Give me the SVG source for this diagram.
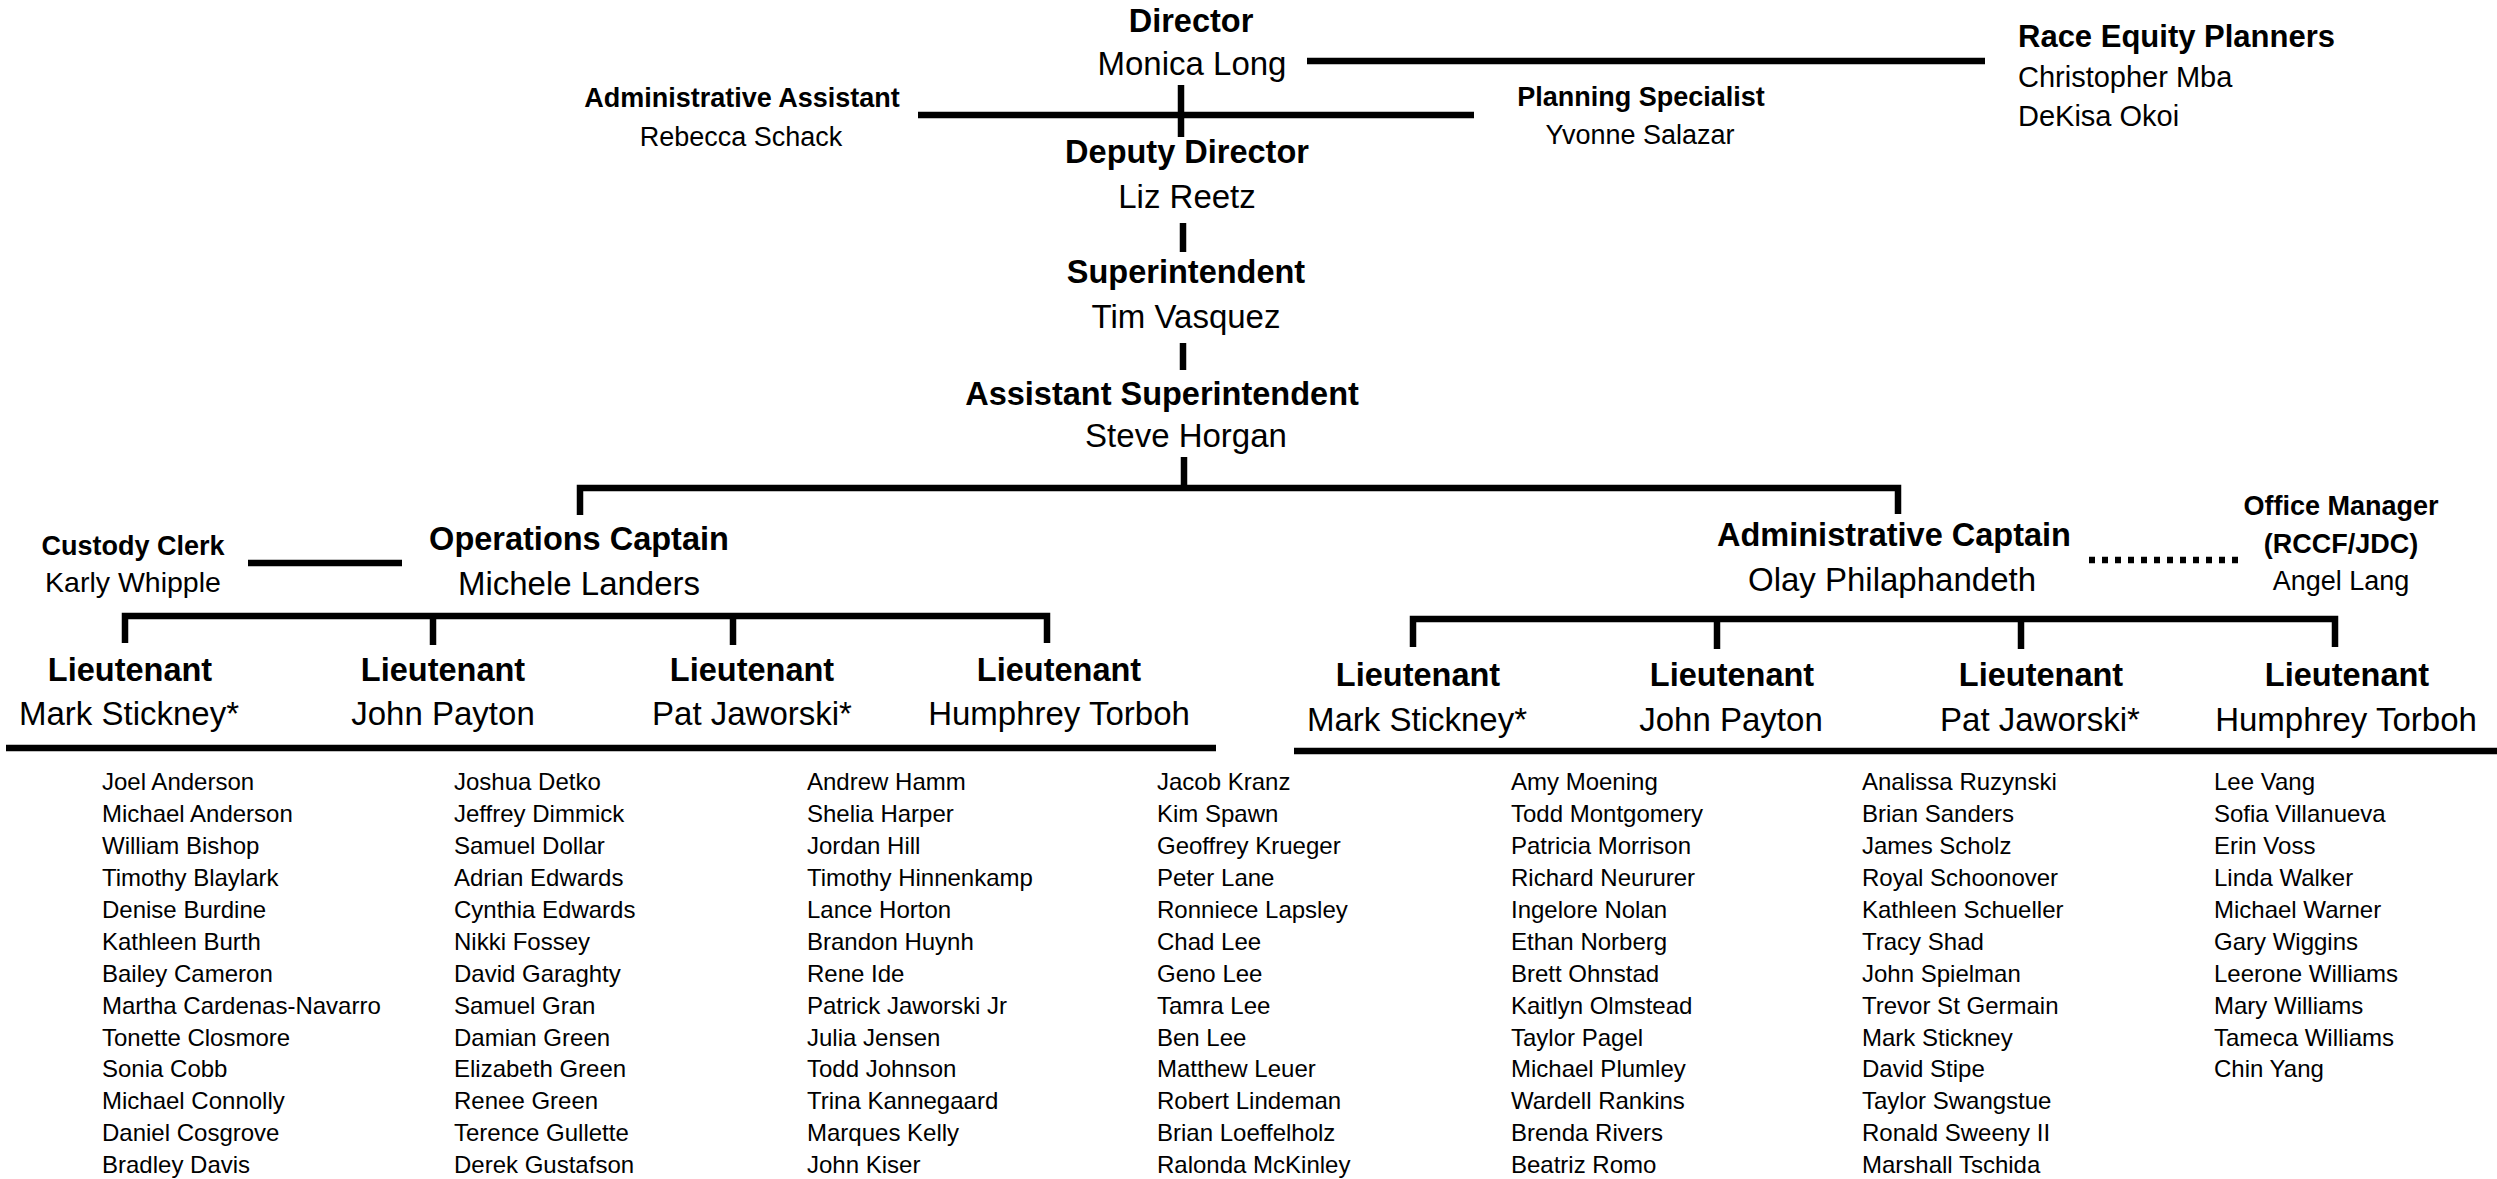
<svg xmlns="http://www.w3.org/2000/svg" width="2497" height="1179" viewBox="0 0 2497 1179">
<style>
text{font-family:"Liberation Sans",Arial,sans-serif;fill:#000}
.t{font-weight:bold;font-size:32.5px;text-anchor:middle}
.n{font-size:33px;text-anchor:middle}
.ts{font-weight:bold;font-size:27px;text-anchor:middle}
.ns{font-size:27px;text-anchor:middle}
.l{font-size:24px}
.c line,.c path{stroke:#000;stroke-width:6.5;fill:none}
</style>
<rect width="2497" height="1179" fill="#fff"/>
<g class="c" id="connectors">
<line x1="1307" y1="61" x2="1985" y2="61"/>
<line x1="918" y1="115" x2="1474" y2="115"/>
<line x1="1181" y1="85" x2="1181" y2="137"/>
<line x1="1183" y1="223" x2="1183" y2="252"/>
<line x1="1183" y1="343" x2="1183" y2="370"/>
<line x1="1184" y1="457" x2="1184" y2="488"/>
<path d="M580,515 V488 H1898 V514"/>
<line x1="248" y1="563" x2="402" y2="563"/>
<path d="M125,643 V616 H1047 V643"/>
<line x1="433" y1="616" x2="433" y2="645"/>
<line x1="733" y1="616" x2="733" y2="645"/>
<line x1="2089" y1="560" x2="2240" y2="560" stroke-dasharray="6 7"/>
<path d="M1413,647 V619 H2335 V647"/>
<line x1="1717" y1="619" x2="1717" y2="649"/>
<line x1="2021" y1="619" x2="2021" y2="649"/>
<line x1="6" y1="748" x2="1216" y2="748" stroke-width="7"/>
<line x1="1294" y1="751" x2="2497" y2="751" stroke-width="7"/>
</g>
<g id="director"><text class="t" x="1191" y="32">Director</text><text class="n" x="1192" y="75">Monica Long</text></g>
<g id="race-equity"><text x="2018" y="47" font-weight="bold" font-size="31px">Race Equity Planners</text><text x="2018" y="87" font-size="29px">Christopher Mba</text><text x="2018" y="126" font-size="29px">DeKisa Okoi</text></g>
<g id="admin-assistant"><text class="ts" x="742" y="107">Administrative Assistant</text><text class="ns" x="741" y="146">Rebecca Schack</text></g>
<g id="planning-specialist"><text class="ts" x="1641" y="106">Planning Specialist</text><text class="ns" x="1640" y="144">Yvonne Salazar</text></g>
<g id="deputy-director"><text class="t" x="1187" y="163">Deputy Director</text><text class="n" x="1187" y="208">Liz Reetz</text></g>
<g id="superintendent"><text class="t" x="1186" y="283">Superintendent</text><text class="n" x="1186" y="328">Tim Vasquez</text></g>
<g id="assistant-superintendent"><text class="t" x="1162" y="405">Assistant Superintendent</text><text class="n" x="1186" y="447">Steve Horgan</text></g>
<g id="custody-clerk"><text class="ts" x="133" y="555">Custody Clerk</text><text class="ns" x="133" y="592" style="font-size:28.5px">Karly Whipple</text></g>
<g id="operations-captain"><text class="t" x="579" y="550">Operations Captain</text><text class="n" x="579" y="595">Michele Landers</text></g>
<g id="administrative-captain"><text class="t" x="1894" y="546">Administrative Captain</text><text class="n" x="1892" y="591">Olay Philaphandeth</text></g>
<g id="office-manager"><text class="ts" x="2341" y="515">Office Manager</text><text class="ts" x="2341" y="553">(RCCF/JDC)</text><text class="ns" x="2341" y="590">Angel Lang</text></g>
<g id="ops-lt-1"><text class="t" x="130" y="681">Lieutenant</text><text class="n" x="129" y="725">Mark Stickney*</text></g>
<g id="ops-lt-2"><text class="t" x="443" y="681">Lieutenant</text><text class="n" x="443" y="725">John Payton</text></g>
<g id="ops-lt-3"><text class="t" x="752" y="681">Lieutenant</text><text class="n" x="752" y="725">Pat Jaworski*</text></g>
<g id="ops-lt-4"><text class="t" x="1059" y="681">Lieutenant</text><text class="n" x="1059" y="725">Humphrey Torboh</text></g>
<g id="adm-lt-1"><text class="t" x="1418" y="686">Lieutenant</text><text class="n" x="1417" y="731">Mark Stickney*</text></g>
<g id="adm-lt-2"><text class="t" x="1732" y="686">Lieutenant</text><text class="n" x="1731" y="731">John Payton</text></g>
<g id="adm-lt-3"><text class="t" x="2041" y="686">Lieutenant</text><text class="n" x="2040" y="731">Pat Jaworski*</text></g>
<g id="adm-lt-4"><text class="t" x="2347" y="686">Lieutenant</text><text class="n" x="2346" y="731">Humphrey Torboh</text></g>
<g id="staff-list">
<text class="l" y="790"><tspan x="102">Joel Anderson</tspan><tspan x="102" dy="31.94">Michael Anderson</tspan><tspan x="102" dy="31.94">William Bishop</tspan><tspan x="102" dy="31.94">Timothy Blaylark</tspan><tspan x="102" dy="31.94">Denise Burdine</tspan><tspan x="102" dy="31.94">Kathleen Burth</tspan><tspan x="102" dy="31.94">Bailey Cameron</tspan><tspan x="102" dy="31.94">Martha Cardenas-Navarro</tspan><tspan x="102" dy="31.94">Tonette Closmore</tspan><tspan x="102" dy="31.94">Sonia Cobb</tspan><tspan x="102" dy="31.94">Michael Connolly</tspan><tspan x="102" dy="31.94">Daniel Cosgrove</tspan><tspan x="102" dy="31.94">Bradley Davis</tspan></text>
<text class="l" y="790"><tspan x="454">Joshua Detko</tspan><tspan x="454" dy="31.94">Jeffrey Dimmick</tspan><tspan x="454" dy="31.94">Samuel Dollar</tspan><tspan x="454" dy="31.94">Adrian Edwards</tspan><tspan x="454" dy="31.94">Cynthia Edwards</tspan><tspan x="454" dy="31.94">Nikki Fossey</tspan><tspan x="454" dy="31.94">David Garaghty</tspan><tspan x="454" dy="31.94">Samuel Gran</tspan><tspan x="454" dy="31.94">Damian Green</tspan><tspan x="454" dy="31.94">Elizabeth Green</tspan><tspan x="454" dy="31.94">Renee Green</tspan><tspan x="454" dy="31.94">Terence Gullette</tspan><tspan x="454" dy="31.94">Derek Gustafson</tspan></text>
<text class="l" y="790"><tspan x="807">Andrew Hamm</tspan><tspan x="807" dy="31.94">Shelia Harper</tspan><tspan x="807" dy="31.94">Jordan Hill</tspan><tspan x="807" dy="31.94">Timothy Hinnenkamp</tspan><tspan x="807" dy="31.94">Lance Horton</tspan><tspan x="807" dy="31.94">Brandon Huynh</tspan><tspan x="807" dy="31.94">Rene Ide</tspan><tspan x="807" dy="31.94">Patrick Jaworski Jr</tspan><tspan x="807" dy="31.94">Julia Jensen</tspan><tspan x="807" dy="31.94">Todd Johnson</tspan><tspan x="807" dy="31.94">Trina Kannegaard</tspan><tspan x="807" dy="31.94">Marques Kelly</tspan><tspan x="807" dy="31.94">John Kiser</tspan></text>
<text class="l" y="790"><tspan x="1157">Jacob Kranz</tspan><tspan x="1157" dy="31.94">Kim Spawn</tspan><tspan x="1157" dy="31.94">Geoffrey Krueger</tspan><tspan x="1157" dy="31.94">Peter Lane</tspan><tspan x="1157" dy="31.94">Ronniece Lapsley</tspan><tspan x="1157" dy="31.94">Chad Lee</tspan><tspan x="1157" dy="31.94">Geno Lee</tspan><tspan x="1157" dy="31.94">Tamra Lee</tspan><tspan x="1157" dy="31.94">Ben Lee</tspan><tspan x="1157" dy="31.94">Matthew Leuer</tspan><tspan x="1157" dy="31.94">Robert Lindeman</tspan><tspan x="1157" dy="31.94">Brian Loeffelholz</tspan><tspan x="1157" dy="31.94">Ralonda McKinley</tspan></text>
<text class="l" y="790"><tspan x="1511">Amy Moening</tspan><tspan x="1511" dy="31.94">Todd Montgomery</tspan><tspan x="1511" dy="31.94">Patricia Morrison</tspan><tspan x="1511" dy="31.94">Richard Neururer</tspan><tspan x="1511" dy="31.94">Ingelore Nolan</tspan><tspan x="1511" dy="31.94">Ethan Norberg</tspan><tspan x="1511" dy="31.94">Brett Ohnstad</tspan><tspan x="1511" dy="31.94">Kaitlyn Olmstead</tspan><tspan x="1511" dy="31.94">Taylor Pagel</tspan><tspan x="1511" dy="31.94">Michael Plumley</tspan><tspan x="1511" dy="31.94">Wardell Rankins</tspan><tspan x="1511" dy="31.94">Brenda Rivers</tspan><tspan x="1511" dy="31.94">Beatriz Romo</tspan></text>
<text class="l" y="790"><tspan x="1862">Analissa Ruzynski</tspan><tspan x="1862" dy="31.94">Brian Sanders</tspan><tspan x="1862" dy="31.94">James Scholz</tspan><tspan x="1862" dy="31.94">Royal Schoonover</tspan><tspan x="1862" dy="31.94">Kathleen Schueller</tspan><tspan x="1862" dy="31.94">Tracy Shad</tspan><tspan x="1862" dy="31.94">John Spielman</tspan><tspan x="1862" dy="31.94">Trevor St Germain</tspan><tspan x="1862" dy="31.94">Mark Stickney</tspan><tspan x="1862" dy="31.94">David Stipe</tspan><tspan x="1862" dy="31.94">Taylor Swangstue</tspan><tspan x="1862" dy="31.94">Ronald Sweeny II</tspan><tspan x="1862" dy="31.94">Marshall Tschida</tspan></text>
<text class="l" y="790"><tspan x="2214">Lee Vang</tspan><tspan x="2214" dy="31.94">Sofia Villanueva</tspan><tspan x="2214" dy="31.94">Erin Voss</tspan><tspan x="2214" dy="31.94">Linda Walker</tspan><tspan x="2214" dy="31.94">Michael Warner</tspan><tspan x="2214" dy="31.94">Gary Wiggins</tspan><tspan x="2214" dy="31.94">Leerone Williams</tspan><tspan x="2214" dy="31.94">Mary Williams</tspan><tspan x="2214" dy="31.94">Tameca Williams</tspan><tspan x="2214" dy="31.94">Chin Yang</tspan></text>
</g>
</svg>
